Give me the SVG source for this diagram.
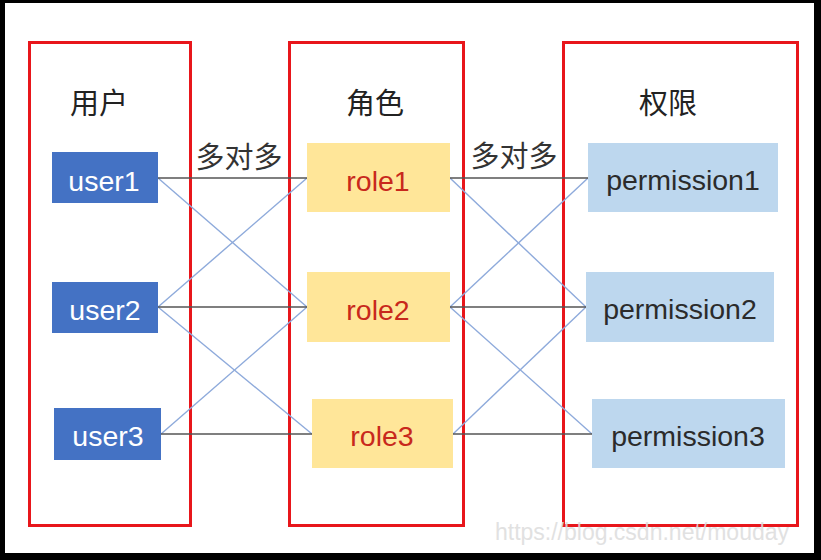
<svg xmlns="http://www.w3.org/2000/svg" width="821" height="560" viewBox="0 0 821 560">
<style>
.frame{fill:none;stroke:#e8161b;stroke-width:3}
.hdr{font-family:"Noto Sans CJK SC","Liberation Sans",sans-serif;font-size:29px;fill:#222;text-anchor:middle}
.lbl{font-family:"Noto Sans CJK SC","Liberation Sans",sans-serif;font-size:29px;fill:#333;text-anchor:middle}
.t{font-family:"Liberation Sans","Noto Sans",sans-serif;font-size:28.5px;text-anchor:middle}
.user rect{fill:#4472c4}
.user text{fill:#ffffff}
.role rect{fill:#ffe699}
.role text{fill:#c8281c}
.perm rect{fill:#bdd7ee}
.perm text{fill:#2b2b2b}
.bk{stroke:#555;stroke-width:1.6}
.bl{stroke:#8eaadb;stroke-width:1.4}
</style>
<rect x="0" y="0" width="821" height="560" fill="#000"/>
<rect x="5" y="3" width="809" height="550" fill="#fff"/>
<g id="frames">
<rect class="frame" x="29.5" y="42.5" width="161" height="483"/>
<rect class="frame" x="289.5" y="42.5" width="174" height="483"/>
<rect class="frame" x="563.5" y="42.5" width="234" height="483"/>
</g>
<g id="headers">
<text class="hdr" x="99" y="114">用户</text>
<text class="hdr" x="375" y="114">角色</text>
<text class="hdr" x="668" y="114">权限</text>
</g>
<g id="connectors">
<line class="bl" x1="158" y1="178" x2="307" y2="307"/>
<line class="bl" x1="158" y1="307" x2="307" y2="178"/>
<line class="bl" x1="158" y1="307" x2="312" y2="434"/>
<line class="bl" x1="161" y1="434" x2="307" y2="307"/>
<line class="bk" x1="158" y1="178" x2="307" y2="178"/>
<line class="bk" x1="158" y1="307" x2="307" y2="307"/>
<line class="bk" x1="161" y1="434" x2="312" y2="434"/>
<line class="bl" x1="450" y1="178" x2="586" y2="307"/>
<line class="bl" x1="450" y1="307" x2="588" y2="178"/>
<line class="bl" x1="450" y1="307" x2="592" y2="434"/>
<line class="bl" x1="453" y1="434" x2="586" y2="307"/>
<line class="bk" x1="450" y1="178" x2="588" y2="178"/>
<line class="bk" x1="450" y1="307" x2="586" y2="307"/>
<line class="bk" x1="453" y1="434" x2="592" y2="434"/>
<text class="lbl" x="239" y="168">多对多</text>
<text class="lbl" x="514" y="167">多对多</text>
</g>
<g id="user1" class="user"><rect x="52" y="152" width="106" height="51"/><text class="t" x="104" y="191">user1</text></g>
<g id="user2" class="user"><rect x="52" y="282" width="106" height="51"/><text class="t" x="105" y="320">user2</text></g>
<g id="user3" class="user"><rect x="54" y="408" width="107" height="52"/><text class="t" x="108" y="446">user3</text></g>
<g id="role1" class="role"><rect x="307" y="143" width="143" height="69"/><text class="t" x="378" y="191">role1</text></g>
<g id="role2" class="role"><rect x="307" y="272" width="143" height="70"/><text class="t" x="378" y="320">role2</text></g>
<g id="role3" class="role"><rect x="312" y="399" width="141" height="69"/><text class="t" x="382" y="446">role3</text></g>
<g id="permission1" class="perm"><rect x="588" y="143" width="190" height="69"/><text class="t" x="683" y="190">permission1</text></g>
<g id="permission2" class="perm"><rect x="586" y="272" width="188" height="70"/><text class="t" x="680" y="319">permission2</text></g>
<g id="permission3" class="perm"><rect x="592" y="399" width="193" height="69"/><text class="t" x="688" y="446">permission3</text></g>
<text x="642" y="540" font-family="Liberation Sans,sans-serif" font-size="23" fill="#dcdcdc" text-anchor="middle" opacity="0.85">https://blog.csdn.net/mouday</text>
</svg>
